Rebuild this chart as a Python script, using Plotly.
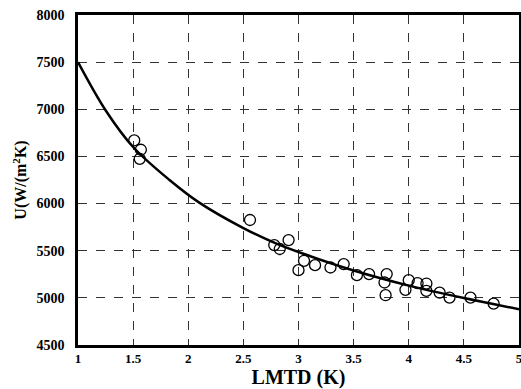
import plotly.graph_objects as go

# measured data points
lmtd = [1.51, 1.57, 1.56, 2.56, 2.78, 2.83, 2.91, 3.00, 3.05, 3.15, 3.29, 3.41, 3.53,
        3.64, 3.78, 3.79, 3.80, 3.97, 4.00, 4.08, 4.16, 4.16, 4.28, 4.37, 4.56, 4.77]
u_meas = [6670, 6571, 6475, 5826, 5560, 5518, 5613, 5294, 5393, 5347, 5322, 5358, 5241,
          5252, 5163, 5028, 5252, 5085, 5188, 5156, 5152, 5074, 5056, 5003, 5003, 4939]

# fitted curve
curve_x = [1.0, 1.25, 1.5, 1.83, 2.1, 2.5, 2.8, 3.05, 3.5, 4.0, 4.5, 5.0]
curve_u = [7500, 6990, 6600, 6250, 6010, 5740, 5575, 5465, 5290, 5130, 4998, 4880]

x_ticks = [1, 1.5, 2, 2.5, 3, 3.5, 4, 4.5, 5]
x_tick_labels = ["1", "1.5", "2", "2.5", "3", "3.5", "4", "4.5", "5"]
y_ticks = [4500, 5000, 5500, 6000, 6500, 7000, 7500, 8000]

font_family = "Liberation Serif, Times New Roman, serif"

fig = go.Figure()
fig.add_trace(go.Scatter(
    x=curve_x, y=curve_u, mode="lines", line=dict(color="black", width=2.5, shape="spline"),
    showlegend=False, hoverinfo="skip"))
fig.add_trace(go.Scatter(
    x=lmtd, y=u_meas, mode="markers",
    marker=dict(symbol="circle-open", size=11, color="black", line=dict(width=1.3)),
    showlegend=False))

fig.update_layout(
    width=521, height=389,
    margin=dict(l=78, r=2, t=15, b=44),
    paper_bgcolor="white", plot_bgcolor="white",
    font=dict(family=font_family, color="black", size=13),
    xaxis=dict(
        range=[1, 5], tickvals=x_ticks, ticktext=x_tick_labels, automargin=False,
        showgrid=True, gridcolor="#333", griddash="dash", gridwidth=1,
        showline=True, linecolor="black", linewidth=2.5, mirror=True,
        ticks="", zeroline=False, ticklabelstandoff=0, ticklabeloverflow="allow",
        tickfont=dict(family=font_family, size=13, color="black", weight="bold"),
        title=dict(text="<b>LMTD (K)</b>", font=dict(family=font_family, size=20), standoff=0),
    ),
    yaxis=dict(
        range=[4500, 8000], tickvals=y_ticks, automargin=False,
        showgrid=True, gridcolor="#333", griddash="dash", gridwidth=1,
        showline=True, linecolor="black", linewidth=2.5, mirror=True,
        ticks="", zeroline=False, ticklabelstandoff=8,
        tickfont=dict(family=font_family, size=14, color="black", weight="bold"),
        title=dict(text="<b>U(W/(m<sup>2</sup>K)</b>", font=dict(family=font_family, size=16), standoff=6),
    ),
)

fig.write_html("out.html", config={"displayModeBar": False},
               post_script="document.body.style.margin='0';document.body.style.overflow='hidden';")
